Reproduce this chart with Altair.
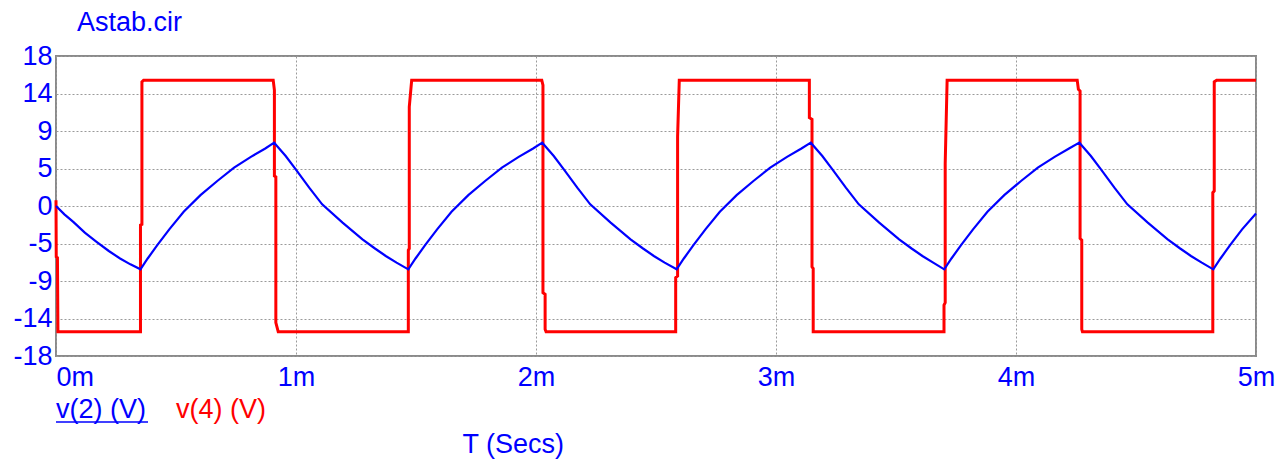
import altair as alt
import pandas as pd

# ---- data (time in ms, voltage in V) ----
# v(2): capacitor voltage, read segment by segment
blue_t = [0, 0.035, 0.072, 0.120, 0.169, 0.220, 0.267, 0.310,
          0.352, 0.382, 0.422, 0.472, 0.532, 0.602, 0.672, 0.742, 0.812, 0.872,
          0.909, 0.957, 0.999, 1.055, 1.109, 1.194, 1.277, 1.329, 1.374, 1.419,
          1.468, 1.498, 1.538, 1.588, 1.648, 1.718, 1.788, 1.858, 1.928, 1.988,
          2.026, 2.074, 2.116, 2.172, 2.226, 2.311, 2.394, 2.446, 2.491, 2.536,
          2.586, 2.616, 2.656, 2.706, 2.766, 2.836, 2.906, 2.976, 3.046, 3.106,
          3.145, 3.193, 3.235, 3.291, 3.345, 3.430, 3.513, 3.565, 3.610, 3.655,
          3.701, 3.731, 3.771, 3.821, 3.881, 3.951, 4.021, 4.091, 4.161, 4.221,
          4.264, 4.312, 4.354, 4.410, 4.464, 4.549, 4.632, 4.684, 4.729, 4.774,
          4.822, 4.852, 4.892, 4.942, 5.0]
blue_v = [0, -1.0, -1.9, -3.2, -4.3, -5.4, -6.3, -7.0,
          -7.6, -6.3, -4.7, -2.8, -0.7, 1.3, 3.0, 4.6, 5.9, 6.9,
          7.6, 6.0, 4.4, 2.2, 0.2, -2.0, -4.0, -5.1, -6.0, -6.8,
          -7.6, -6.3, -4.7, -2.8, -0.7, 1.3, 3.0, 4.6, 5.9, 6.9,
          7.6, 6.0, 4.4, 2.2, 0.2, -2.0, -4.0, -5.1, -6.0, -6.8,
          -7.6, -6.3, -4.7, -2.8, -0.7, 1.3, 3.0, 4.6, 5.9, 6.9,
          7.6, 6.0, 4.4, 2.2, 0.2, -2.0, -4.0, -5.1, -6.0, -6.8,
          -7.6, -6.3, -4.7, -2.8, -0.7, 1.3, 3.0, 4.6, 5.9, 6.9,
          7.6, 6.0, 4.4, 2.2, 0.2, -2.0, -4.0, -5.1, -6.0, -6.8,
          -7.6, -6.3, -4.7, -2.8, -0.9]

# v(4): comparator output
red_t = [0, 0.001, 0.006, 0.008,
         0.352, 0.352, 0.358, 0.358, 0.365,
         0.905, 0.910, 0.910, 0.916, 0.916, 0.926,
         1.468, 1.468, 1.472, 1.472, 1.482,
         2.024, 2.029, 2.029, 2.038, 2.038, 2.042,
         2.582, 2.582, 2.590, 2.590, 2.597,
         3.139, 3.139, 3.150, 3.150, 3.155, 3.155,
         3.700, 3.700, 3.705, 3.705, 3.713,
         4.255, 4.260, 4.267, 4.267, 4.274, 4.274, 4.277,
         4.820, 4.820, 4.826, 4.826, 4.836, 5.0]
red_v = [0.7, -6.1, -6.2, -15.1,
         -15.1, -2.3, -2.2, 14.9, 15.1,
         15.1, 13.9, 3.6, 3.5, -14.0, -15.1,
         -15.1, -5.3, -5.1, 11.9, 15.1,
         15.1, 14.5, -10.4, -10.6, -14.8, -15.1,
         -15.1, -8.6, -8.4, 8.3, 15.1,
         15.1, 10.6, 10.4, -7.3, -7.5, -15.1,
         -15.1, -11.9, -11.6, 5.1, 15.1,
         15.1, 14.0, 13.8, -3.9, -4.1, -14.8, -15.1,
         -15.1, 1.6, 1.8, 14.9, 15.1, 15.1]

x_ticks = [0, 1, 2, 3, 4, 5]
y_ticks = [-18, -13.5, -9, -4.5, 0, 4.5, 9, 13.5, 18]

chart_title = "Astab.cir"
x_title = "T (Secs)"
legend_labels = ["v(2) (V)", "v(4) (V)"]

BLUE = "#0000ff"
RED = "#ff0000"
FONT = "Liberation Sans"
FS = 27
W, H = 1200, 300

blue_df = pd.DataFrame({"t": blue_t, "v": blue_v, "i": list(range(len(blue_t)))})
red_df = pd.DataFrame({"t": red_t, "v": red_v, "i": list(range(len(red_t)))})

x_scale = alt.Scale(domain=[0, 5], nice=False, zero=False)
y_scale = alt.Scale(domain=[-18, 18], nice=False, zero=False)

x_axis = alt.Axis(
    values=x_ticks,
    labelExpr="datum.value + 'm'",
    grid=True, gridDash=[2, 2], gridColor="#9a9a9a", gridWidth=1,
    ticks=False, domain=False, labelOverlap=False,
    labelFont=FONT, labelFontSize=FS, labelColor=BLUE, labelPadding=8,
    labelAlign={"condition": {"test": "datum.value == 0", "value": "left"}, "value": "center"},
    title=x_title, titleFont=FONT, titleFontSize=FS, titleFontWeight="normal",
    titleColor=BLUE, titleAlign="left", titleBaseline="alphabetic",
    titleX=406, titleY=96,
)
y_axis = alt.Axis(
    values=y_ticks,
    labelExpr="datum.value >= 0 ? format(round(datum.value), 'd') : '-' + format(round(-datum.value), 'd')",
    grid=True, gridDash=[2, 2], gridColor="#9a9a9a", gridWidth=1,
    ticks=False, domain=False, labelOverlap=False,
    labelFont=FONT, labelFontSize=FS, labelColor=BLUE, labelPadding=4,
    labelBaseline="middle",
)

red_line = alt.Chart(red_df).mark_line(color=RED, strokeWidth=3, strokeJoin="miter").encode(
    x=alt.X("t:Q", scale=x_scale, axis=x_axis, title=x_title),
    y=alt.Y("v:Q", scale=y_scale, axis=y_axis, title=None),
    order="i:Q",
)
blue_line = alt.Chart(blue_df).mark_line(color=BLUE, strokeWidth=2.2).encode(
    x=alt.X("t:Q", scale=x_scale, axis=x_axis, title=x_title),
    y=alt.Y("v:Q", scale=y_scale, axis=y_axis, title=None),
    order="i:Q",
)

title_df = pd.DataFrame({"label": [chart_title]})
title_mark = alt.Chart(title_df).mark_text(
    font=FONT, fontSize=FS, color=BLUE, align="left", baseline="alphabetic"
).encode(x=alt.value(21), y=alt.value(-25), text="label:N")

leg1 = alt.Chart(pd.DataFrame({"label": [legend_labels[0]]})).mark_text(
    font=FONT, fontSize=FS, color=BLUE, align="left", baseline="alphabetic"
).encode(x=alt.value(0), y=alt.value(362), text="label:N")
leg1_ul = alt.Chart(pd.DataFrame({"a": [0]})).mark_rule(color=BLUE, strokeWidth=1.5).encode(
    x=alt.value(0), x2=alt.value(92), y=alt.value(366)
)
leg2 = alt.Chart(pd.DataFrame({"label": [legend_labels[1]]})).mark_text(
    font=FONT, fontSize=FS, color=RED, align="left", baseline="alphabetic"
).encode(x=alt.value(120), y=alt.value(362), text="label:N")

chart = alt.layer(red_line, blue_line, title_mark, leg1, leg1_ul, leg2).resolve_scale(
    x="shared", y="shared"
).properties(
    width=W, height=H,
    autosize=alt.AutoSizeParams(type="none"),
    padding={"left": 56, "top": 56, "right": 25, "bottom": 105},
    background="white",
).configure_view(stroke="#8a8a8a", strokeWidth=2)

chart.save("out.html", embed_options={"renderer": "svg", "actions": False})
